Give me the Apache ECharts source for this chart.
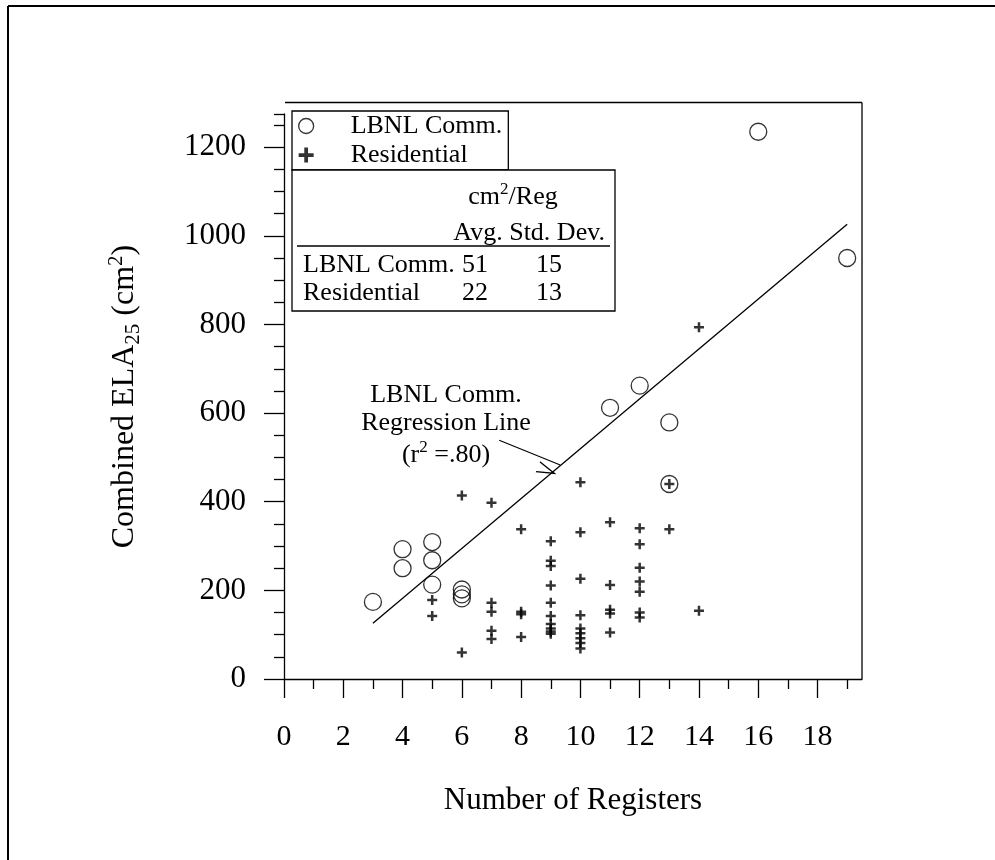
<!DOCTYPE html>
<html>
<head>
<meta charset="utf-8">
<script src="https://cdn.jsdelivr.net/npm/echarts@6/dist/echarts.min.js"></script>
<style>
    html, body { margin: 0; padding: 0; background: #fff; }
    #main { width: 995px; height: 860px; }
</style>
</head>
<body>
<div id="main"></div>
<script>
    // LBNL commercial buildings
    var commX = [3, 4, 4, 5, 5, 5, 6, 6, 6, 11, 12, 13, 13, 16, 19];
    var commY = [174, 293, 250, 309, 268, 213, 202, 191, 182, 612, 662, 579, 440, 1235, 950];

    // residential
    var resX = [5, 5, 6, 6, 7, 7, 7, 7, 7, 8, 8, 8, 8,
                9, 9, 9, 9, 9, 9, 9, 9, 9, 9,
                10, 10, 10, 10, 10, 10, 10, 10, 10,
                11, 11, 11, 11, 11,
                12, 12, 12, 12, 12, 12, 12,
                13, 13, 14, 14];
    var resY = [178, 142, 414, 60, 398, 172, 152, 109, 90, 338, 152, 146, 95,
                311, 267, 255, 211, 172, 142, 124, 114, 107, 102,
                444, 331, 226, 144, 114, 103, 92, 81, 69,
                354, 212, 156, 148, 105,
                340, 304, 251, 220, 197, 150, 139,
                440, 338, 794, 154];

    // regression line ends, arrow ends
    var fitX = [3, 19];
    var fitY = [126, 1026];
    var arrowX = [7.26, 9.32];
    var arrowY = [539, 483];

    // ticks
    var xMajor = [0, 2, 4, 6, 8, 10, 12, 14, 16, 18];
    var xMinor = [1, 3, 5, 7, 9, 11, 13, 15, 17, 19];
    var yMajor = [0, 200, 400, 600, 800, 1000, 1200];
    var yMinor = [50, 100, 150, 250, 300, 350, 450, 500, 550, 650, 700, 750,
                  850, 900, 950, 1050, 1100, 1150, 1250, 1275];

    // table
    var tableRows = ['LBNL Comm.', 'Residential'];
    var tableAvg = ['51', '22'];
    var tableStd = ['15', '13'];

    var serif = 'Liberation Serif';
    var plusPath = 'path://M3,0H5V3H8V5H5V8H3V5H0V3H3Z';
    var vPath = 'path://M6,0L12,20L10.6,20L6,4.6L1.4,20L0,20Z';

    function pairs (xs, ys) {
        var out = [];
        for (var i = 0; i < xs.length; i++) out.push([xs[i], ys[i]]);
        return out;
    }

    var axisLine = { show: true, lineStyle: { color: '#000', width: 1.3 } };
    var tickStyle = { color: '#000', width: 1.3 };
    var frame = { stroke: '#000', lineWidth: 1.3 };

    var myChart = echarts.init(document.getElementById('main'));

    var graphics = [
        // outer frame
        { type: 'line', shape: { x1: 8, y1: 6, x2: 995, y2: 6 }, style: { stroke: '#000', lineWidth: 2 } },
        { type: 'line', shape: { x1: 8, y1: 6, x2: 8, y2: 860 }, style: { stroke: '#000', lineWidth: 2 } },
        // plot frame, top and right
        { type: 'line', shape: { x1: 285, y1: 102.5, x2: 862, y2: 102.5 }, style: frame },
        { type: 'line', shape: { x1: 862, y1: 102.5, x2: 862, y2: 679 }, style: frame },
        // table box
        { type: 'rect', shape: { x: 292, y: 170, width: 323, height: 141 }, style: { fill: '#fff', stroke: '#000', lineWidth: 1.3 }, z: 10 },
        { type: 'line', shape: { x1: 297, y1: 246, x2: 610, y2: 246 }, style: frame, z: 11 },
        { type: 'text', x: 513, y: 197, z: 11, style: { text: 'cm{sup|2}/Reg', font: '26px ' + serif, fill: '#000', align: 'center', verticalAlign: 'middle',
            rich: { sup: { fontSize: 17, fontFamily: serif, padding: [0, 0, 14, 0] } } } },
        { type: 'text', x: 605, y: 233, z: 11, style: { text: 'Avg. Std. Dev.', font: '26px ' + serif, fill: '#000', align: 'right', verticalAlign: 'middle' } },
        // annotation
        { type: 'text', x: 446, y: 395, style: { text: 'LBNL Comm.', font: '26px ' + serif, fill: '#000', align: 'center', verticalAlign: 'middle' } },
        { type: 'text', x: 446, y: 423, style: { text: 'Regression Line', font: '26px ' + serif, fill: '#000', align: 'center', verticalAlign: 'middle' } },
        { type: 'text', x: 446, y: 455, style: { text: '(r{sup|2} =.80)', font: '26px ' + serif, fill: '#000', align: 'center', verticalAlign: 'middle',
            rich: { sup: { fontSize: 17, fontFamily: serif, padding: [0, 0, 14, 0] } } } }
    ];
    var rowY = [265, 293];
    for (var r = 0; r < tableRows.length; r++) {
        graphics.push({ type: 'text', x: 303, y: rowY[r], z: 11, style: { text: tableRows[r], font: '26px ' + serif, fill: '#000', align: 'left', verticalAlign: 'middle' } });
        graphics.push({ type: 'text', x: 475, y: rowY[r], z: 11, style: { text: tableAvg[r], font: '26px ' + serif, fill: '#000', align: 'center', verticalAlign: 'middle' } });
        graphics.push({ type: 'text', x: 549, y: rowY[r], z: 11, style: { text: tableStd[r], font: '26px ' + serif, fill: '#000', align: 'center', verticalAlign: 'middle' } });
    }

    myChart.setOption({
        animation: false,
        backgroundColor: '#fff',
        grid: { left: 284, right: 133, top: 114, bottom: 181 },
        legend: {
            orient: 'vertical',
            left: 292, top: 111,
            padding: [2, 6, 2, 6],
            itemGap: 3,
            itemWidth: 15, itemHeight: 15,
            borderColor: '#000', borderWidth: 1.3,
            backgroundColor: '#fff',
            z: 10,
            selectedMode: false,
            formatter: function (n) { return '{g|}' + n; },
            textStyle: { fontFamily: serif, fontSize: 26, color: '#000', lineHeight: 24,
                rich: { g: { width: 32 } } },
            data: [
                { name: 'LBNL Comm.', icon: 'circle', itemStyle: { color: 'transparent', borderColor: '#000', borderWidth: 1.3 } },
                { name: 'Residential', icon: plusPath, itemStyle: { color: '#000' } }
            ]
        },
        xAxis: [
            {
                type: 'value', min: 0, max: 19.5, position: 'bottom', offset: 5,
                axisLine: axisLine,
                axisTick: { show: true, inside: false, length: 19, customValues: xMajor, lineStyle: tickStyle },
                axisLabel: { customValues: xMajor, fontFamily: serif, fontSize: 30, color: '#000', margin: 38 },
                splitLine: { show: false },
                name: 'Number of Registers', nameLocation: 'middle', nameGap: 101,
                nameTextStyle: { fontFamily: serif, fontSize: 31, color: '#000' }
            },
            {
                type: 'value', min: 0, max: 19.5, position: 'bottom', offset: 5,
                axisLine: { show: false },
                axisTick: { show: true, inside: false, length: 10, customValues: xMinor, lineStyle: tickStyle },
                axisLabel: { show: false },
                splitLine: { show: false }
            }
        ],
        yAxis: [
            {
                type: 'value', min: 0, max: 1275, position: 'left', offset: 6,
                axisLine: axisLine,
                axisTick: { show: true, inside: false, length: 20, customValues: yMajor, lineStyle: tickStyle },
                axisLabel: { customValues: yMajor, fontFamily: serif, fontSize: 31, color: '#000', margin: 32,
                    formatter: function (v) { return String(v); } },
                splitLine: { show: false },
                name: 'Combined ELA{sub|25} (cm{sup|2})', nameLocation: 'middle', nameGap: 134, nameRotate: 90,
                nameTextStyle: { fontFamily: serif, fontSize: 32, color: '#000',
                    rich: {
                        sub: { fontFamily: serif, fontSize: 21, padding: [17, 0, 0, 0] },
                        sup: { fontFamily: serif, fontSize: 21, padding: [0, 0, 17, 0] }
                    } }
            },
            {
                type: 'value', min: 0, max: 1275, position: 'left', offset: 6,
                axisLine: { show: false },
                axisTick: { show: true, inside: false, length: 10, customValues: yMinor, lineStyle: tickStyle },
                axisLabel: { show: false },
                splitLine: { show: false }
            }
        ],
        graphic: graphics,
        series: [
            {
                name: 'Regression', type: 'line', xAxisIndex: 0, yAxisIndex: 0,
                data: pairs(fitX, fitY), symbol: 'none', silent: true,
                lineStyle: { color: '#000', width: 1.3 },
                markLine: {
                    silent: true, symbol: ['none', vPath], symbolSize: [12, 20], symbolOffset: [0, 10],
                    label: { show: false },
                    itemStyle: { color: '#000' },
                    lineStyle: { color: '#000', width: 1.1, type: 'solid' },
                    data: [[{ coord: [arrowX[0], arrowY[0]] }, { coord: [arrowX[1], arrowY[1]] }]]
                }
            },
            {
                name: 'LBNL Comm.', type: 'scatter', xAxisIndex: 0, yAxisIndex: 0,
                data: pairs(commX, commY), symbol: 'circle', symbolSize: 17,
                itemStyle: { color: 'transparent', borderColor: '#000', borderWidth: 1.3 }
            },
            {
                name: 'Residential', type: 'scatter', xAxisIndex: 0, yAxisIndex: 0,
                data: pairs(resX, resY), symbol: plusPath, symbolSize: 10,
                itemStyle: { color: '#000' }
            }
        ]
    });
</script>
</body>
</html>
